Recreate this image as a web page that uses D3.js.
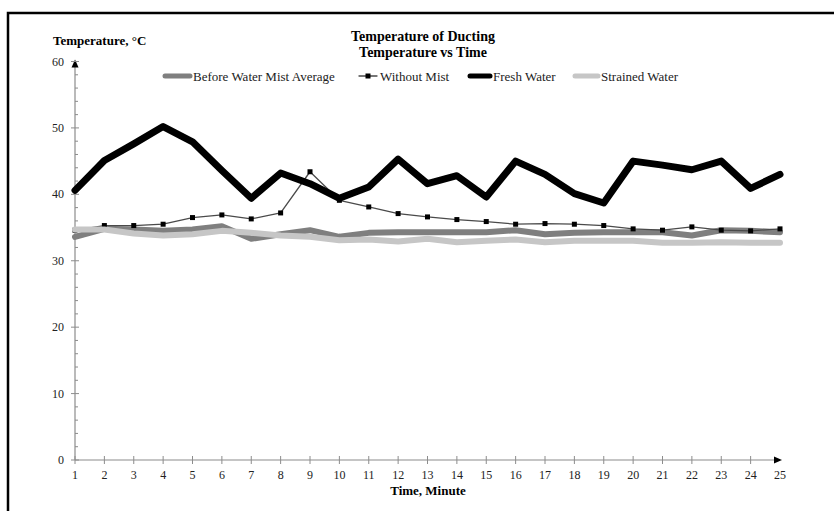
<!DOCTYPE html>
<html>
<head>
<meta charset="utf-8">
<script src="https://cdn.jsdelivr.net/npm/d3@7"></script>
<style>
  body { margin: 0; background: #fff; }
  text { font-family: "Liberation Serif", "Times New Roman", serif; }
</style>
</head>
<body>
<div id="chart"></div>
<script>
// data
const minutes = d3.range(1, 26);
const beforeMist = [33.6, 34.8, 34.7, 34.5, 34.7, 35.2, 33.3, 34.0, 34.6, 33.6, 34.2, 34.3, 34.3,
  34.3, 34.3, 34.6, 34.0, 34.2, 34.3, 34.3, 34.3, 33.8, 34.6, 34.5, 34.3];
const withoutMist = [34.6, 35.3, 35.3, 35.5, 36.5, 36.9, 36.3, 37.2, 43.4, 39.1, 38.1, 37.1, 36.6,
  36.2, 35.9, 35.5, 35.6, 35.5, 35.3, 34.8, 34.6, 35.1, 34.6, 34.5, 34.8];
const freshWater = [40.6, 45.1, 47.6, 50.2, 47.9, 43.6, 39.4, 43.2, 41.6, 39.4, 41.1, 45.3, 41.6,
  42.8, 39.6, 45.0, 43.0, 40.1, 38.7, 45.0, 44.4, 43.7, 45.0, 40.9, 43.0];
const strainedWater = [34.7, 34.7, 34.1, 33.8, 34.0, 34.5, 34.2, 33.8, 33.6, 33.1, 33.2, 32.9, 33.3,
  32.8, 33.0, 33.2, 32.8, 33.0, 33.0, 33.0, 32.7, 32.7, 32.8, 32.7, 32.7];
const seriesNames = ["Before Water Mist Average", "Without Mist", "Fresh Water", "Strained Water"];
const yTicks = [0, 10, 20, 30, 40, 50, 60];

const width = 834, height = 511;

const svg = d3.select("#chart").append("svg")
  .attr("width", width)
  .attr("height", height);

// outer frame (runs off the right and bottom edge)
svg.append("rect")
  .attr("x", 8).attr("y", 13)
  .attr("width", 840).attr("height", 520)
  .attr("fill", "none")
  .attr("stroke", "#000")
  .attr("stroke-width", 2.5);

const x = d3.scaleLinear().domain([1, 25]).range([75, 780]);
const y = d3.scaleLinear().domain([0, 60]).range([460, 61.5]);

const axisColor = "#8c8c8c";

// y axis
svg.append("line")
  .attr("x1", x(1)).attr("x2", x(1))
  .attr("y1", y(0)).attr("y2", y(60))
  .attr("stroke", axisColor).attr("stroke-width", 1.2);
svg.append("path")
  .attr("d", `M${x(1)},${y(60) - 2} l-3.5,8 h7 z`)
  .attr("fill", "#000");
svg.selectAll(".ytick-minor")
  .data(d3.range(2, 60, 2).filter(v => v % 10 !== 0))
  .join("line")
  .attr("x1", x(1)).attr("x2", x(1) + 3)
  .attr("y1", d => y(d)).attr("y2", d => y(d))
  .attr("stroke", axisColor);
svg.selectAll(".ytick")
  .data(yTicks)
  .join("line")
  .attr("x1", x(1) - 4).attr("x2", x(1) + 4)
  .attr("y1", d => y(d)).attr("y2", d => y(d))
  .attr("stroke", axisColor);
svg.selectAll(".ylabel")
  .data(yTicks)
  .join("text")
  .attr("x", x(1) - 11)
  .attr("y", d => y(d) + 4)
  .attr("text-anchor", "end")
  .attr("font-size", 12)
  .attr("fill", "#222")
  .text(d => d);

// x axis
svg.append("line")
  .attr("x1", x(1)).attr("x2", x(25))
  .attr("y1", y(0)).attr("y2", y(0))
  .attr("stroke", axisColor).attr("stroke-width", 1.2);
svg.append("path")
  .attr("d", `M${x(25) + 2},${y(0)} l-8,-3.5 v7 z`)
  .attr("fill", "#000");
svg.selectAll(".xtick")
  .data(minutes.slice(0, 24))
  .join("line")
  .attr("x1", d => x(d)).attr("x2", d => x(d))
  .attr("y1", y(0) - 4).attr("y2", y(0) + 4)
  .attr("stroke", axisColor);
svg.selectAll(".xlabel")
  .data(minutes)
  .join("text")
  .attr("x", d => x(d))
  .attr("y", y(0) + 19)
  .attr("text-anchor", "middle")
  .attr("font-size", 12)
  .attr("fill", "#222")
  .text(d => d);

// titles
svg.append("text")
  .attr("x", 423).attr("y", 41)
  .attr("text-anchor", "middle")
  .attr("font-size", 14).attr("font-weight", "bold")
  .text("Temperature of Ducting");
svg.append("text")
  .attr("x", 423).attr("y", 57)
  .attr("text-anchor", "middle")
  .attr("font-size", 14).attr("font-weight", "bold")
  .text("Temperature vs Time");
svg.append("text")
  .attr("x", 53).attr("y", 45)
  .attr("font-size", 13).attr("font-weight", "bold")
  .text("Temperature, \u00b0C");
svg.append("text")
  .attr("x", 428).attr("y", 495)
  .attr("text-anchor", "middle")
  .attr("font-size", 13).attr("font-weight", "bold")
  .text("Time, Minute");

// series
const series = [
  { name: seriesNames[0], values: beforeMist, color: "#7f7f7f", w: 6, marker: false },
  { name: seriesNames[1], values: withoutMist, color: "#4a4a4a", w: 1.3, marker: true },
  { name: seriesNames[2], values: freshWater, color: "#000", w: 7, marker: false },
  { name: seriesNames[3], values: strainedWater, color: "#c6c6c6", w: 6, marker: false }
];

const line = d3.line()
  .x((d, i) => x(minutes[i]))
  .y(d => y(d));

series.forEach(s => {
  svg.append("path")
    .attr("d", line(s.values))
    .attr("fill", "none")
    .attr("stroke", s.color)
    .attr("stroke-width", s.w)
    .attr("stroke-linejoin", "round")
    .attr("stroke-linecap", "round");
  if (s.marker) {
    svg.selectAll(null)
      .data(s.values)
      .join("rect")
      .attr("x", (d, i) => x(minutes[i]) - 2.5)
      .attr("y", d => y(d) - 2.5)
      .attr("width", 5).attr("height", 5)
      .attr("fill", "#000");
  }
});

// legend
const legendX = [163, 357, 468, 573];
const swatchW = [29, 22, 24, 27];
const legend = svg.append("g");
series.forEach((s, i) => {
  legend.append("line")
    .attr("x1", legendX[i] + 2).attr("x2", legendX[i] + swatchW[i] - 2)
    .attr("y1", 76).attr("y2", 76)
    .attr("stroke", s.color)
    .attr("stroke-width", s.marker ? 1.3 : 5)
    .attr("stroke-linecap", "round");
  if (s.marker) {
    legend.append("rect")
      .attr("x", legendX[i] + swatchW[i] / 2 - 2.5).attr("y", 73.5)
      .attr("width", 5).attr("height", 5)
      .attr("fill", "#000");
  }
  legend.append("text")
    .attr("x", legendX[i] + swatchW[i] + 1)
    .attr("y", 80.5)
    .attr("font-size", 13)
    .attr("fill", "#222")
    .text(s.name);
});
</script>
</body>
</html>
